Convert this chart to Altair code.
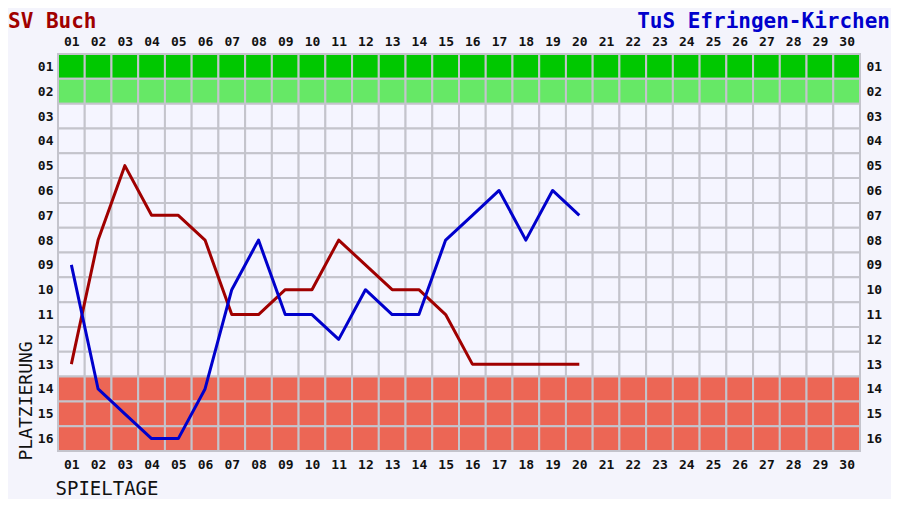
import altair as alt
import pandas as pd

# ---- data ----
matchdays = list(range(1, 31))
ranks = list(range(1, 17))
played = list(range(1, 21))

team_a = "SV Buch"
team_b = "TuS Efringen-Kirchen"
rank_a = [13, 8, 5, 7, 7, 8, 11, 11, 10, 10, 8, 9, 10, 10, 11, 13, 13, 13, 13, 13]
rank_b = [9, 14, 15, 16, 16, 14, 10, 8, 11, 11, 12, 10, 11, 11, 8, 7, 6, 8, 6, 7]

zone_rank = {1: "auf", 2: "rel_auf", 14: "ab", 15: "ab", 16: "ab"}
zone_names = ["auf", "rel_auf", "mid", "ab"]
zone_colors = ["#00C800", "#66E866", "#F5F5FF", "#EC6655"]

cells = pd.DataFrame(
    [
        {"c0": m - 0.5, "c1": m + 0.5, "r0": r - 0.5, "r1": r + 0.5,
         "zone": zone_rank.get(r, "mid")}
        for m in matchdays for r in ranks
    ]
)

lines = pd.DataFrame(
    {"team": [team_a] * len(played) + [team_b] * len(played),
     "spieltag": played + played,
     "platz": rank_a + rank_b}
)

titles = pd.DataFrame({"t": [team_a]})

FONT = "DejaVu Sans Mono"
label_expr = "(datum.value < 10 ? '0' : '') + datum.value"

xscale = alt.Scale(domain=[0.5, 30.5], nice=False, zero=False)
yscale = alt.Scale(domain=[0.5, 16.5], nice=False, zero=False, reverse=True)

W, H = 802, 397

grid = alt.Chart(cells).mark_rect(stroke="#C4C4CC", strokeWidth=2).encode(
    x=alt.X("c0:Q", scale=xscale,
            axis=alt.Axis(orient="bottom", values=matchdays, labelExpr=label_expr,
                          grid=False, ticks=False, domain=False, labelPadding=7,
                          labelFont=FONT, labelFontSize=13, labelFontWeight="bold",
                          labelColor="#111", labelBaseline="top",
                          title="SPIELTAGE", titleFont=FONT, titleFontSize=19,
                          titleFontWeight="normal", titleColor="#111",
                          titleAnchor="start", titleAlign="left",
                          titleX=-3, titleY=43, titleBaseline="alphabetic")),
    x2="c1:Q",
    y=alt.Y("r0:Q", scale=yscale,
            axis=alt.Axis(orient="left", values=ranks, labelExpr=label_expr,
                          grid=False, ticks=False, domain=False, labelPadding=5,
                          labelFont=FONT, labelFontSize=13, labelFontWeight="bold",
                          labelColor="#111",
                          title="PLATZIERUNG", titleFont=FONT, titleFontSize=18,
                          titleFontWeight="normal", titleColor="#111",
                          titleAngle=-90, titleAlign="left",
                          titleX=-27, titleY=406, titleBaseline="alphabetic")),
    y2="r1:Q",
    fill=alt.Fill("zone:N", scale=alt.Scale(domain=zone_names, range=zone_colors),
                  legend=None),
)

line_layer = alt.Chart(lines).mark_line(strokeWidth=3, strokeJoin="round").encode(
    x=alt.X("spieltag:Q", scale=xscale,
            axis=alt.Axis(orient="top", values=matchdays, labelExpr=label_expr,
                          grid=False, ticks=False, domain=False, labelPadding=6,
                          labelFont=FONT, labelFontSize=13, labelFontWeight="bold",
                          labelColor="#111", title=None)),
    y=alt.Y("platz:Q", scale=yscale,
            axis=alt.Axis(orient="right", values=ranks, labelExpr=label_expr,
                          grid=False, ticks=False, domain=False, labelPadding=6,
                          labelFont=FONT, labelFontSize=13, labelFontWeight="bold",
                          labelColor="#111", title=None)),
    color=alt.Color("team:N", scale=alt.Scale(domain=[team_a, team_b],
                                              range=["#A00000", "#0000CC"]),
                    legend=None),
    detail="team:N",
)

title_a = alt.Chart(titles).mark_text(
    font=FONT, fontSize=21, fontWeight="bold", color="#A00000",
    align="left", baseline="alphabetic"
).encode(x=alt.value(-50), y=alt.value(-26), text=alt.value(team_a))

title_b = alt.Chart(titles).mark_text(
    font=FONT, fontSize=21, fontWeight="bold", color="#0000CC",
    align="right", baseline="alphabetic"
).encode(x=alt.value(832), y=alt.value(-26), text=alt.value(team_b))

chart = alt.layer(grid, line_layer, title_a, title_b).resolve_axis(
    x="independent", y="independent"
).properties(
    width=W, height=H,
    background="#F4F4FC",
    autosize=alt.AutoSizeParams(type="none"),
    padding={"left": 50, "top": 46, "right": 31, "bottom": 48},
).configure_view(stroke=None)

chart.save("out.html", embed_options={"renderer": "svg", "actions": False})
